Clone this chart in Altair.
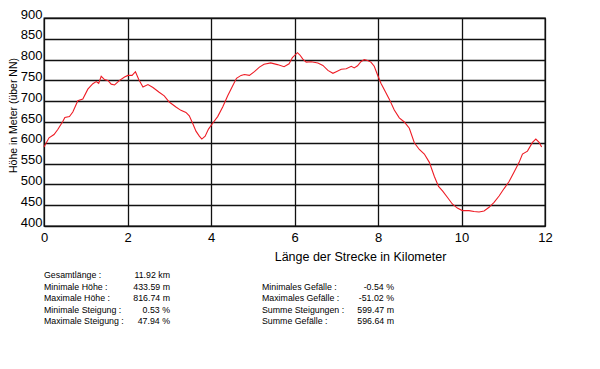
import altair as alt
import pandas as pd

# --- elevation profile (km, metres) ---
km = [0.00, 0.12, 0.24, 0.33, 0.45, 0.50, 0.61, 0.69, 0.81, 0.93,
      1.05, 1.17, 1.25, 1.31, 1.37, 1.45, 1.53, 1.61, 1.69, 1.81,
      1.93, 2.01, 2.11, 2.19, 2.27, 2.37, 2.49, 2.61, 2.75, 2.88,
      3.00, 3.16, 3.28, 3.40, 3.48, 3.56, 3.64, 3.72, 3.78, 3.86,
      3.94, 4.04, 4.16, 4.28, 4.40, 4.52, 4.61, 4.72, 4.80, 4.92,
      5.04, 5.16, 5.27, 5.43, 5.59, 5.75, 5.87, 5.95, 6.07, 6.13,
      6.20, 6.28, 6.40, 6.56, 6.68, 6.80, 6.92, 7.00, 7.12, 7.24,
      7.36, 7.43, 7.51, 7.59, 7.67, 7.75, 7.83, 7.91, 7.99, 8.07,
      8.18, 8.27, 8.39, 8.51, 8.63, 8.75, 8.87, 8.99, 9.11, 9.23,
      9.35, 9.45, 9.55, 9.67, 9.78, 9.90, 10.02, 10.18, 10.30, 10.42,
      10.54, 10.66, 10.78, 10.90, 11.02, 11.14, 11.26, 11.38, 11.46, 11.58,
      11.70, 11.78, 11.86, 11.92]
hoehe = [590, 612, 620, 632, 651, 661, 663, 674, 701, 705,
         729, 742, 747, 743, 760, 752, 750, 741, 739, 750,
         758, 762, 762, 771, 752, 734, 740, 733, 722, 713,
         698, 686, 678, 673, 665, 647, 628, 616, 609, 616,
         633, 647, 663, 686, 713, 737, 755, 762, 764, 762,
         771, 782, 789, 792, 788, 783, 790, 805, 816.7, 811,
         801, 794, 795, 792, 786, 774, 767, 771, 777, 778,
         784, 780, 785, 795, 800, 798, 794, 784, 763, 743,
         722, 705, 679, 660, 650, 635, 600, 584, 573, 553,
         519, 495, 484, 468, 453, 443, 437, 437, 435, 433.6,
         436, 445, 457, 472, 490, 507, 530, 553, 573, 580,
         601, 609, 601, 590]

x_ticks = [0, 2, 4, 6, 8, 10, 12]
y_ticks = [400, 450, 500, 550, 600, 650, 700, 750, 800, 850, 900]

# --- statistics block ---
left_labels = ["Gesamtlänge :", "Minimale Höhe :", "Maximale Höhe :",
               "Minimale Steigung :", "Maximale Steigung :"]
left_values = ["11.92 km", "433.59 m", "816.74 m", "0.53 %", "47.94 %"]
right_labels = ["Minimales Gefälle :", "Maximales Gefälle :",
                "Summe Steigungen :", "Summe Gefälle :"]
right_values = ["-0.54 %", "-51.02 %", "599.47 m", "596.64 m"]

profile = pd.DataFrame({"km": km, "hoehe": hoehe})
labels_df = pd.DataFrame({
    "text": left_labels + right_labels,
    "col": [0] * len(left_labels) + [2] * len(right_labels),
    "row": list(range(len(left_labels))) + list(range(1, 1 + len(right_labels))),
})
values_df = pd.DataFrame({
    "text": left_values + right_values,
    "col": [1] * len(left_values) + [3] * len(right_values),
    "row": list(range(len(left_values))) + list(range(1, 1 + len(right_values))),
})

AX_FONT = "Liberation Sans, Arial, sans-serif"
ST_FONT = "Liberation Sans, Arial, sans-serif"

line = alt.Chart(profile).mark_line(color="#ee1c25", strokeWidth=1.1).encode(
    x=alt.X("km:Q",
            scale=alt.Scale(domain=[0, 12], nice=False),
            axis=alt.Axis(values=x_ticks, title="Länge der Strecke in Kilometer",
                          grid=True, gridColor="#111", gridWidth=1.3, gridOpacity=1,
                          ticks=False, tickSize=0, domain=False,
                          labelFont=AX_FONT, labelFontSize=13, labelColor="black",
                          labelPadding=5, labelFlush=False,
                          titleFont=AX_FONT, titleFontSize=12.5, titleFontWeight="normal",
                          titleColor="black", titleX=316, titleY=30,
                          titleAlign="center", titleBaseline="middle")),
    y=alt.Y("hoehe:Q",
            scale=alt.Scale(domain=[400, 900], nice=False),
            axis=alt.Axis(values=y_ticks, title="Höhe in Meter (über NN)",
                          grid=True, gridColor="#111", gridWidth=1.3, gridOpacity=1,
                          ticks=False, tickSize=0, domain=False,
                          labelFont=AX_FONT, labelFontSize=13, labelColor="black",
                          labelPadding=2, labelBaseline="alphabetic", labelFlush=False,
                          titleFont=AX_FONT, titleFontSize=10.5, titleFontWeight="normal",
                          titleColor="black", titleX=-31, titleY=97,
                          titleAlign="center", titleBaseline="middle")),
)

stat_x = alt.Scale(domain=[0, 1, 2, 3], range=[0, 126, 218, 350])
stat_y = alt.Scale(domain=[0, 4], range=[257, 303])

stat_labels = alt.Chart(labels_df).mark_text(
    align="left", baseline="middle", font=ST_FONT, fontSize=8.8, color="black"
).encode(
    x=alt.X("col:Q", scale=stat_x, axis=None),
    y=alt.Y("row:Q", scale=stat_y, axis=None),
    text="text:N",
)
stat_values = alt.Chart(values_df).mark_text(
    align="right", baseline="middle", font=ST_FONT, fontSize=8.8, color="black"
).encode(
    x=alt.X("col:Q", scale=stat_x, axis=None),
    y=alt.Y("row:Q", scale=stat_y, axis=None),
    text="text:N",
)

chart = alt.layer(line, stat_labels, stat_values).resolve_scale(
    x="independent", y="independent"
).properties(
    width=501, height=208,
    padding={"left": 0, "top": 0, "right": 5, "bottom": 5},
    background="white",
).configure_view(stroke="black", strokeWidth=1.3)

chart.save("out.html", embed_options={"renderer": "svg", "actions": False})
